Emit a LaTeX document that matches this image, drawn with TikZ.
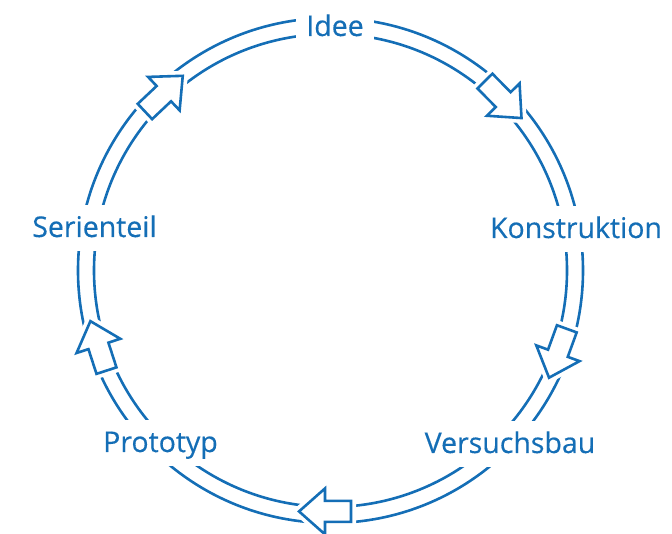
\documentclass[tikz,border=0pt]{standalone}
\usepackage{fontspec}
\setmainfont{Open Sans}
\newfontfamily\lblfont[FakeBold=0.35]{Open Sans}
\usetikzlibrary{calc}
\definecolor{ringblue}{RGB}{20,110,182}
\begin{document}
\begin{tikzpicture}[x=1pt,y=1pt,
  ringline/.style={draw=ringblue,line width=2.6pt},
  lbl/.style={text=ringblue,font=\lblfont\fontsize{28.5}{32}\selectfont,fill=white,
     anchor=base,inner xsep=10pt,inner ysep=0pt,text height=32pt,text depth=14pt},
  blockarrow/.pic={
    \path[draw=white,line width=10pt,line join=miter]
      (-26,-10.5) -- (0,-10.5) -- (0,-23) -- (26,0) -- (0,23) -- (0,10.5) -- (-26,10.5) -- cycle;
    \path[draw=ringblue,fill=white,line width=2.6pt,line join=miter]
      (-26,-10.5) -- (0,-10.5) -- (0,-23) -- (26,0) -- (0,23) -- (0,10.5) -- (-26,10.5) -- cycle;
  }]
\useasboundingbox (0,0) rectangle (672,534);
\coordinate (C) at (330.5,263.5);
% ring
\draw[ringline] (C) circle[radius=252.5];
\draw[ringline] (C) circle[radius=236.5];
% labels
\node[lbl] (idee) at (335,498) {Idee};
\node[lbl] (konstruktion) at (576,296) {Konstruktion};
\node[lbl] (versuchsbau) at (510,81) {Versuchsbau};
\node[lbl] (prototyp) at (160.5,82) {Prototyp};
\node[lbl] (serienteil) at (94.5,297) {Serienteil};
% arrows
\pic[rotate=-45.3] at ($(C)+(44.7:243)$) {blockarrow};
\pic[rotate=-110] at ($(C)+(-20:242)$) {blockarrow};
\pic[rotate=180] at ($(C)+(-91.3:241)$) {blockarrow};
\pic[rotate=108] at ($(C)+(-162:244)$) {blockarrow};
\pic[rotate=43.3] at ($(C)+(133.3:243)$) {blockarrow};
\end{tikzpicture}
\end{document}
